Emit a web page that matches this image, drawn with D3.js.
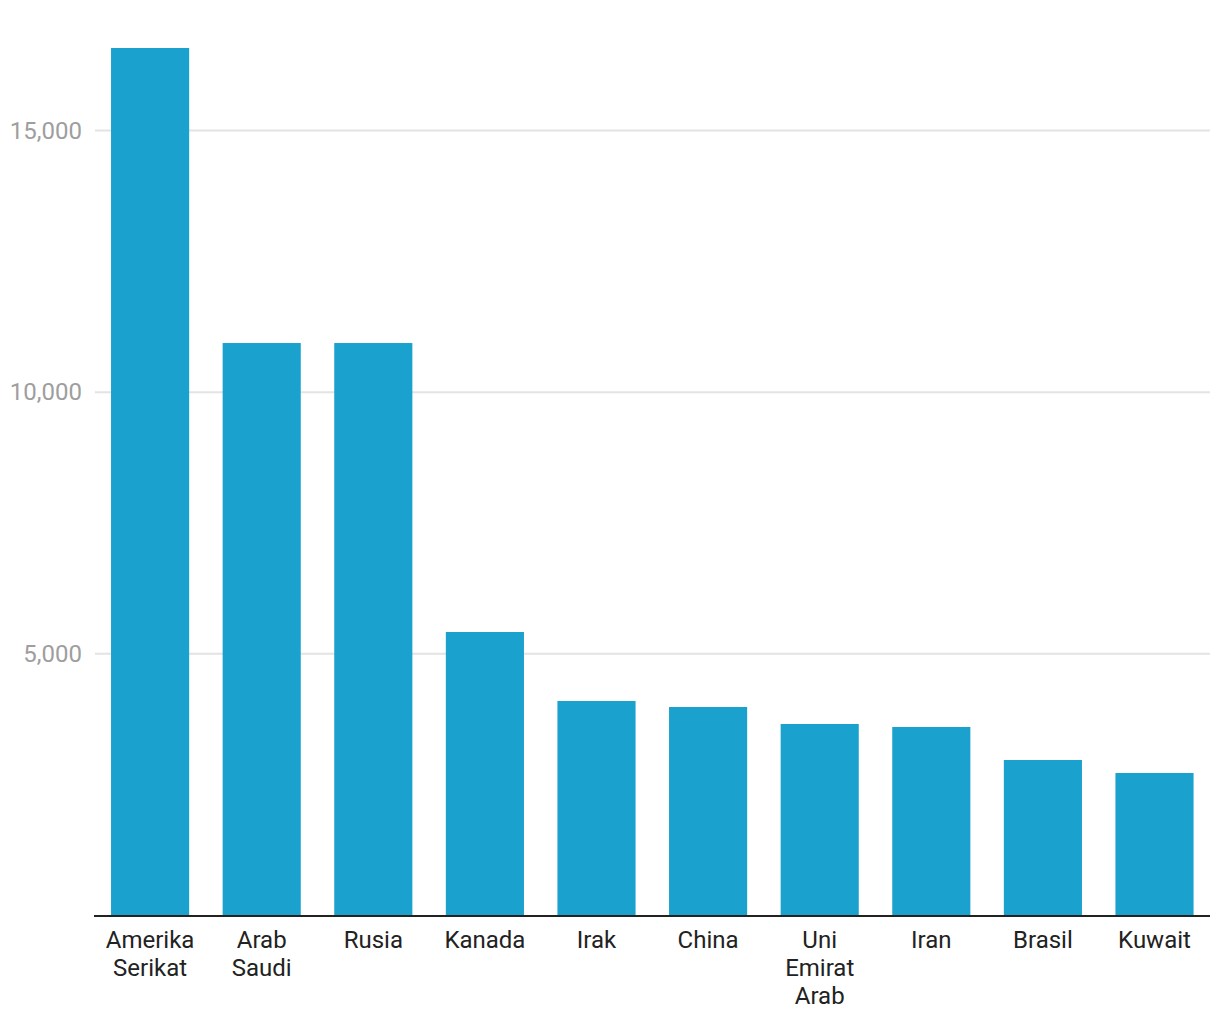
<!DOCTYPE html>
<html><head><meta charset="utf-8">
<script src="https://cdn.jsdelivr.net/npm/d3@7"></script>
<style>body{margin:0;background:#fff}svg{display:block}</style>
</head><body>
<svg id="c" width="1220" height="1020"></svg>
<script>
const categories = [["Amerika","Serikat"],["Arab","Saudi"],["Rusia"],["Kanada"],["Irak"],["China"],["Uni","Emirat","Arab"],["Iran"],["Brasil"],["Kuwait"]];
const values = [16576, 10939, 10939, 5417, 4099, 3984, 3659, 3602, 2971, 2723];
const yTicks = [5000, 10000, 15000];

const svg = d3.select("#c");
const names = categories.map(c => c.join(" "));
const x = d3.scaleBand().domain(names).range([94.3, 1210.3]).paddingInner(0.3).paddingOuter(0.15);
const y = d3.scaleLinear().domain([0, 15000]).range([915.5, 130.5]);
const font = "Roboto, 'Noto Sans', sans-serif";

// gridlines + tick labels
const yAxis = d3.axisLeft(y).tickValues(yTicks).tickFormat(d3.format(",")).tickSize(0).tickPadding(0);
const gy = svg.append("g").attr("transform", "translate(82,0)").call(yAxis);
gy.select(".domain").remove();
gy.selectAll("text").attr("font-family", font).attr("font-size", 24).attr("fill", "#9e9e9e");
svg.append("g").selectAll("line").data(yTicks).join("line")
  .attr("x1", 95).attr("x2", 1210).attr("y1", d => y(d)).attr("y2", d => y(d))
  .attr("stroke", "#e3e3e3").attr("stroke-width", 2);

// bars
svg.append("g").selectAll("rect").data(values).join("rect")
  .attr("x", (d, i) => x(names[i])).attr("width", x.bandwidth())
  .attr("y", d => y(d)).attr("height", d => y(0) - y(d))
  .attr("fill", "#1aa1cd");

// x axis
svg.append("line").attr("x1", 94).attr("x2", 1210).attr("y1", 916).attr("y2", 916)
  .attr("stroke", "#222").attr("stroke-width", 2);
const lab = svg.append("g").selectAll("text").data(categories).join("text")
  .attr("x", (d, i) => x(names[i]) + x.bandwidth() / 2)
  .attr("y", 948).attr("text-anchor", "middle")
  .attr("font-family", font).attr("font-size", 24).attr("fill", "#222");
lab.selectAll("tspan").data(d => d).join("tspan")
  .attr("x", function () { return this.parentNode.getAttribute("x"); })
  .attr("dy", (d, i) => i === 0 ? 0 : 28).text(d => d);
</script>
</body></html>
